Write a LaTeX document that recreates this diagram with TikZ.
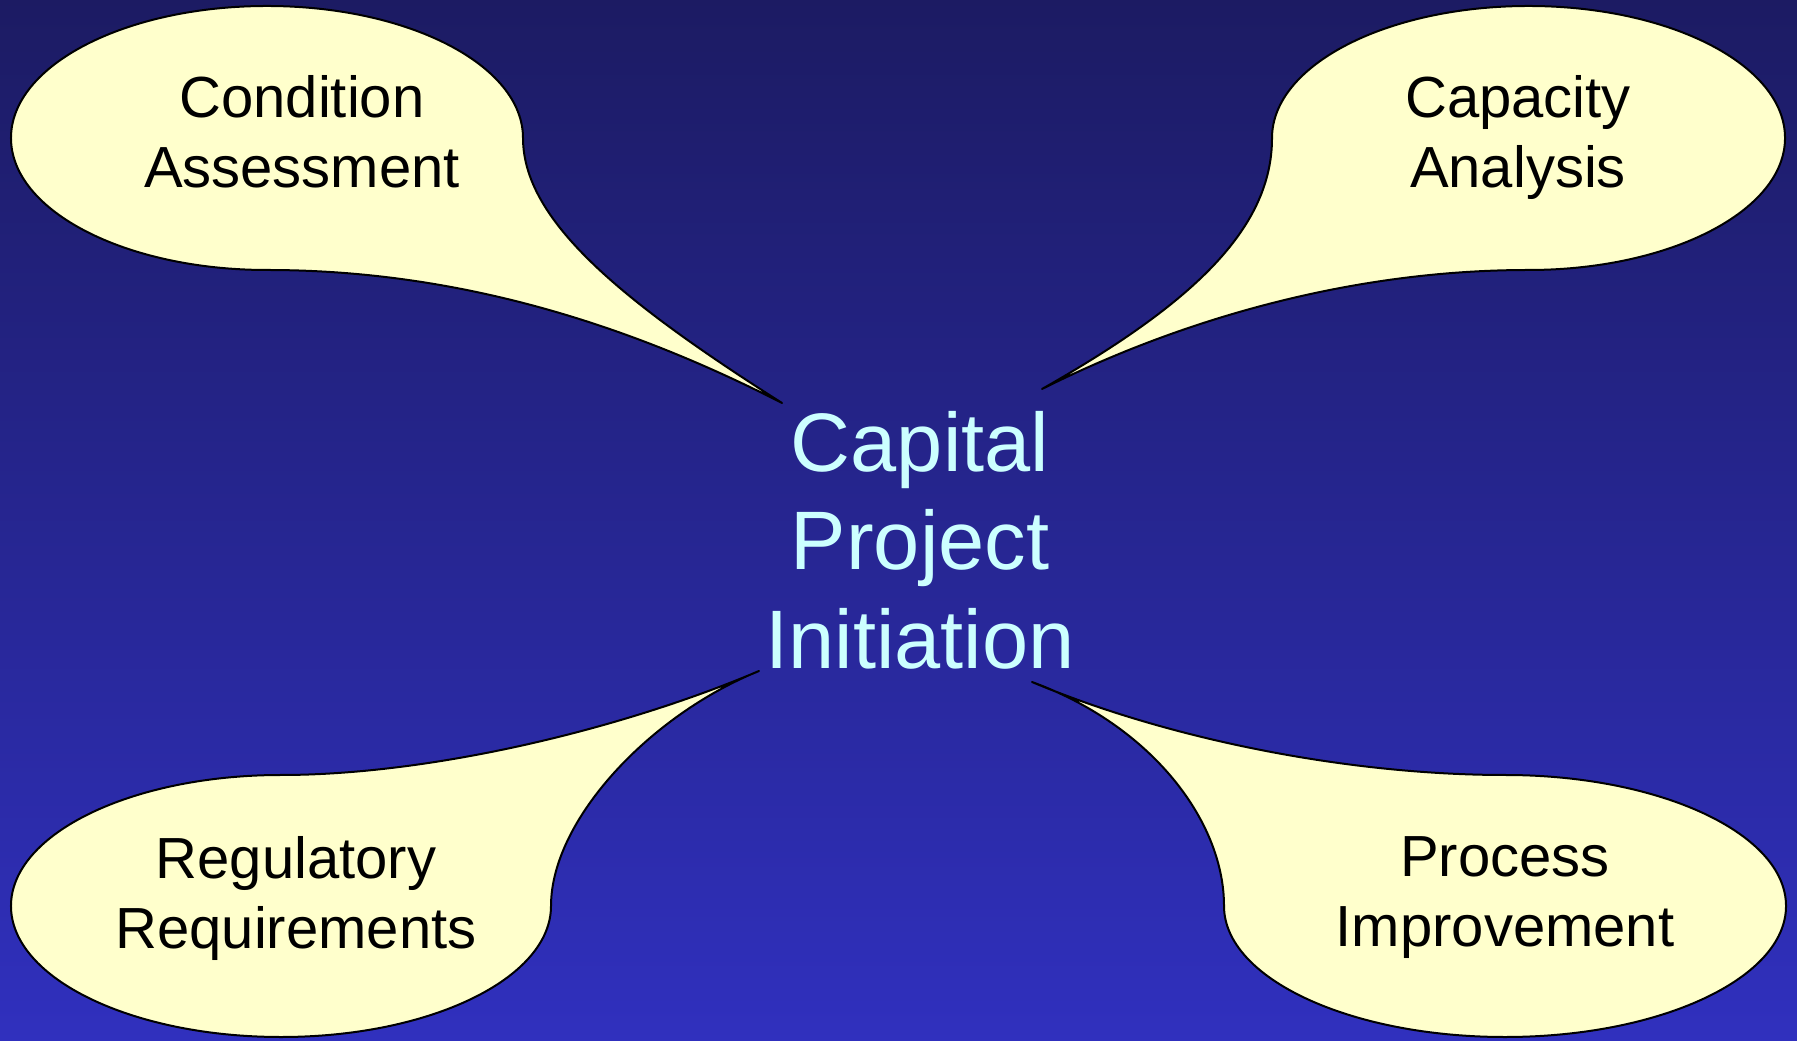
\documentclass[tikz,border=0pt]{standalone}
\usepackage{fontspec}
\setmainfont{Liberation Sans}
\definecolor{bgtop}{HTML}{1C1B63}
\definecolor{bgbot}{HTML}{3030BE}
\definecolor{balloon}{HTML}{FFFFCC}
\definecolor{titlecol}{HTML}{CCFFFF}
\begin{document}
\begin{tikzpicture}[x=0.4pt,y=0.4pt,
  callout/.style={fill=balloon,draw=black,line width=0.8pt,line join=round},
  calltext/.style={font=\fontsize{23.2pt}{28pt}\selectfont,align=center,text=black,inner sep=0pt},
  titletext/.style={font=\fontsize{33.2pt}{39.4pt}\selectfont,align=center,inner sep=0pt}]
\shade[top color=bgtop,bottom color=bgbot] (0,0) rectangle (1797,1040);
\useasboundingbox (0,0) rectangle (1797,1040);

% top-left balloon
\draw[callout] (523,902) arc[start angle=0,end angle=270,x radius=102.4pt,y radius=52.8pt]
  .. controls (450,770) and (620,720) .. (782,637)
  .. controls (620,740) and (523,820) .. (523,902) -- cycle;
% top-right balloon
\draw[callout] (1272,902) arc[start angle=180,end angle=-90,x radius=102.6pt,y radius=52.8pt]
  .. controls (1350,770) and (1180,720) .. (1042,651)
  .. controls (1190,735) and (1272,810) .. (1272,902) -- cycle;
% bottom-left balloon
\draw[callout] (551,134) arc[start angle=0,end angle=-270,x radius=108pt,y radius=52.4pt]
  .. controls (430,265) and (620,310) .. (759,369)
  .. controls (650,325) and (551,220) .. (551,134) -- cycle;
% bottom-right balloon
\draw[callout] (1224,134) arc[start angle=180,end angle=450,x radius=112.4pt,y radius=52.4pt]
  .. controls (1350,265) and (1170,300) .. (1032,358)
  .. controls (1150,315) and (1224,220) .. (1224,134) -- cycle;

\node[calltext] (cond) at (302,908) {Condition\\Assessment};
\node[calltext] (capa) at (1518,902) {Capacity\\Analysis};
\node[calltext] (regu) at (296,141) {Regulatory\\Requirements};
\node[calltext] (proc) at (1505,142) {Process\\Improvement};

\node[titletext,text=titlecol] (cpi) at (920,500) {Capital\\Project\\Initiation};
\end{tikzpicture}
\end{document}
